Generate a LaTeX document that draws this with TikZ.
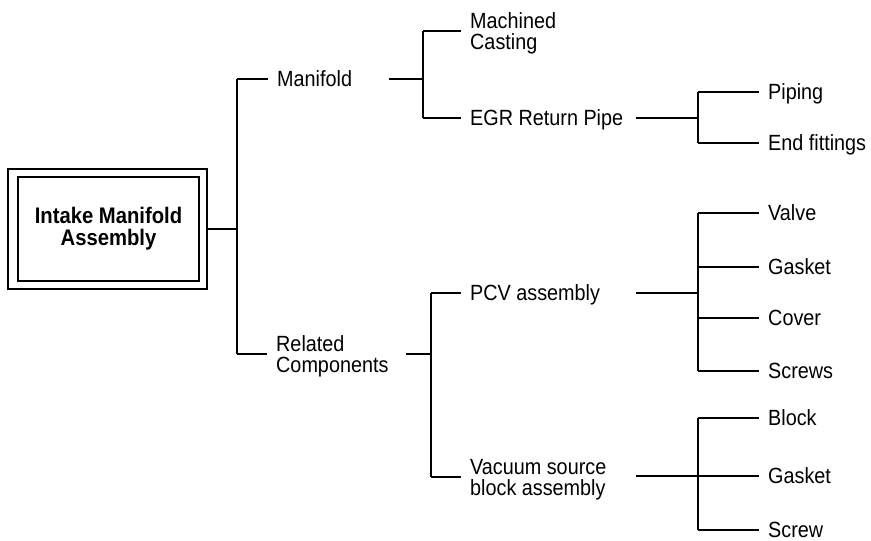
\documentclass[tikz,border=0pt]{standalone}
\usepackage{fontspec}
\setmainfont{Liberation Sans}
\newfontfamily\labfont[FakeStretch=0.9]{Liberation Sans}
\usetikzlibrary{calc}
\begin{document}
\begin{tikzpicture}[x=1pt,y=-1pt,
  wire/.style={line width=1.2pt},
  lab/.style={anchor=base west, inner xsep=9pt, inner ysep=0pt, align=left, font=\labfont\fontsize{22}{21}\selectfont}]
\useasboundingbox (0,0) rectangle (871,541);
% root box
\node[draw, line width=1.1pt, minimum width=199pt, minimum height=120pt, inner sep=0pt] (outer) at (107.5,229) {};
\node[draw, line width=1.4pt, minimum width=181pt, minimum height=104pt, inner sep=0pt, align=center,
  font=\labfont\bfseries\fontsize{22.5}{22}\selectfont] (root) at (108.5,229) {Intake Manifold\\Assembly};
% labels
\node[lab] (man) at (268,86.9) {Manifold};
\node[lab] (rel) at (267,372.4) {Related\\Components};
\node[lab] (mach) at (461,49.4) {Machined\\Casting};
\node[lab] (egr) at (461,125.9) {EGR Return Pipe};
\node[lab] (pcv) at (461,300.9) {PCV assembly};
\node[lab] (vac) at (461,495.4) {Vacuum source\\block assembly};
\node[lab] (pip) at (759,99.9) {Piping};
\node[lab] (endf) at (759,150.9) {End fittings};
\node[lab] (valve) at (759,220.9) {Valve};
\node[lab] (gas1) at (759,274.9) {Gasket};
\node[lab] (cov) at (759,325.9) {Cover};
\node[lab] (scr1) at (759,378.9) {Screws};
\node[lab] (blk) at (759,425.9) {Block};
\node[lab] (gas2) at (759,483.9) {Gasket};
\node[lab] (scr2) at (759,537.9) {Screw};
% coordinates
\coordinate (j0) at (237,229);
\coordinate (j0t) at (237,79);
\coordinate (j0b) at (237,354);
\coordinate (m0) at (389,79);
\coordinate (j1) at (423,79);
\coordinate (j1t) at (423,31);
\coordinate (j1b) at (423,118);
\coordinate (e0) at (636,118);
\coordinate (j2) at (698,118);
\coordinate (j2t) at (698,92);
\coordinate (j2b) at (698,143);
\coordinate (r0) at (406,354);
\coordinate (j3) at (431,354);
\coordinate (j3t) at (431,293);
\coordinate (j3b) at (431,477);
\coordinate (p0) at (636,293);
\coordinate (j4) at (698,293);
\coordinate (j4a) at (698,213);
\coordinate (j4b) at (698,267);
\coordinate (j4c) at (698,318);
\coordinate (j4d) at (698,371);
\coordinate (v0) at (636,476);
\coordinate (j5) at (698,476);
\coordinate (j5a) at (698,418);
\coordinate (j5c) at (698,530);
% connectors
\draw[wire] (outer.east |- j0) -- (j0);
\draw[wire] (j0t) -- (j0b);
\draw[wire] (j0t) -- (man.west |- j0t);
\draw[wire] (j0b) -- (rel.west |- j0b);
\draw[wire] (m0) -- (j1);
\draw[wire] (j1t) -- (j1b);
\draw[wire] (j1t) -- (mach.west |- j1t);
\draw[wire] (j1b) -- (egr.west |- j1b);
\draw[wire] (e0) -- (j2);
\draw[wire] (j2t) -- (j2b);
\draw[wire] (j2t) -- (pip.west |- j2t);
\draw[wire] (j2b) -- (endf.west |- j2b);
\draw[wire] (r0) -- (j3);
\draw[wire] (j3t) -- (j3b);
\draw[wire] (j3t) -- (pcv.west |- j3t);
\draw[wire] (j3b) -- (vac.west |- j3b);
\draw[wire] (p0) -- (j4);
\draw[wire] (j4a) -- (j4d);
\draw[wire] (j4a) -- (valve.west |- j4a);
\draw[wire] (j4b) -- (gas1.west |- j4b);
\draw[wire] (j4c) -- (cov.west |- j4c);
\draw[wire] (j4d) -- (scr1.west |- j4d);
\draw[wire] (v0) -- (j5);
\draw[wire] (j5a) -- (j5c);
\draw[wire] (j5a) -- (blk.west |- j5a);
\draw[wire] (j5) -- (gas2.west |- j5);
\draw[wire] (j5c) -- (scr2.west |- j5c);
\end{tikzpicture}
\end{document}
